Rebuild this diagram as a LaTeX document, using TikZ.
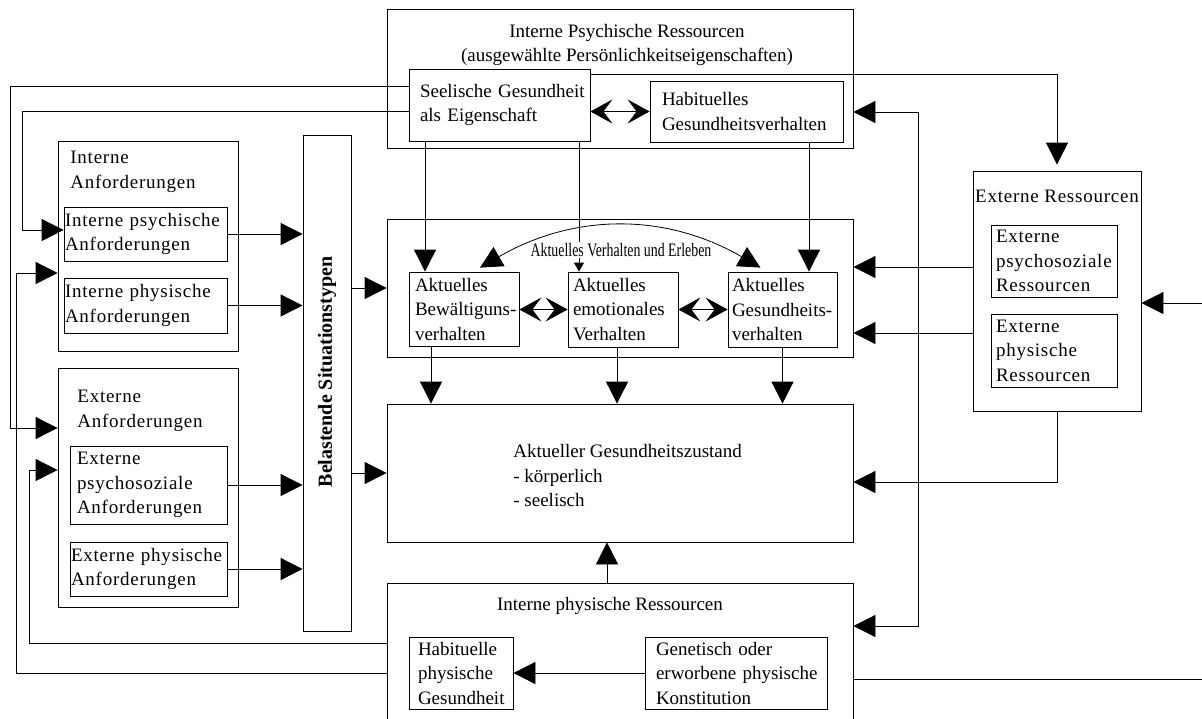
\documentclass[tikz,border=0pt]{standalone}
\usepackage{fontspec}
\setmainfont{Liberation Serif}
\newfontfamily\widefont{Liberation Serif}[LetterSpace=4]
\newfontfamily\narrowfont{Liberation Serif}[FakeStretch=0.73]
\usetikzlibrary{arrows.meta}

\tikzset{
  frame/.style={draw, inner sep=0pt},
  txt/.style={inner sep=0pt, align=left, font=\fontsize{19}{24.5}\selectfont,
    execute at begin node={\hyphenpenalty=10000\relax\exhyphenpenalty=10000\relax}},
  wtxt/.style={txt, font=\widefont\fontsize{19}{24.5}\selectfont},
  big/.style={-{Triangle[length=22pt,width=22pt]}},
  bigboth/.style={{Triangle[length=22pt,width=22pt]}-{Triangle[length=22pt,width=22pt]}},
  small/.style={-{Triangle[length=9pt,width=10pt]}},
  chev/.style={{Stealth[length=22pt,width=24pt,inset=9pt]}-{Stealth[length=22pt,width=24pt,inset=9pt]}}
}

\begin{document}
\begin{tikzpicture}[x=1pt, y=-1pt, line width=0.8pt]
  \useasboundingbox (0,0) rectangle (1202,718);

  % interne psychische Ressourcen
  \node [frame, minimum width=466pt, minimum height=139pt] (ipr) at (620,78.5) {};
  \node [txt, align=center] (iprlab) at (627,45) {Interne Psychische Ressourcen\\(ausgewählte Persönlichkeitseigenschaften)};
  \node [frame, txt, minimum width=181pt, minimum height=72pt, text width=159pt] (seel) at (499.5,105) {Seelische~Gesundheit\\als Eigenschaft};
  \node [frame, txt, minimum width=193pt, minimum height=61pt, text width=169pt] (habv) at (746.5,111.5) {Habituelles\\Gesundheitsverhalten};

  % aktuelles Verhalten und Erleben
  \node [frame, minimum width=466pt, minimum height=138pt] (akt) at (620,288) {};
  \node [frame, txt, minimum width=110pt, minimum height=74pt, text width=98pt] (bew) at (464,309) {Aktuelles\\Bewältiguns-\\verhalten};
  \node [frame, txt, minimum width=110pt, minimum height=75pt, text width=100pt] (emo) at (623,309.5) {Aktuelles\\emotionales\\Verhalten};
  \node [frame, txt, minimum width=109pt, minimum height=75pt, text width=101pt] (gesv) at (782.5,309.5) {Aktuelles\\Gesundheits-\\verhalten};

  % Gesundheitszustand
  \node [frame, minimum width=466pt, minimum height=138pt] (zust) at (620,473) {};
  \node [txt, anchor=north west] (zustlab) at (513,444) {Aktueller Gesundheitszustand\\- körperlich\\- seelisch};

  % interne physische Ressourcen
  \node [frame, minimum width=466pt, minimum height=147pt] (ipy) at (620,656.5) {};
  \node [txt] (ipylab) at (610,606) {Interne physische Ressourcen};
  \node [frame, txt, minimum width=104pt, minimum height=72pt, text width=86pt] (habg) at (461,673) {Habituelle\\physische\\Gesundheit};
  \node [frame, txt, minimum width=182pt, minimum height=72pt, text width=160pt] (gen) at (736,673) {Genetisch~oder\\erworbene~physische\\Konstitution};

  % Anforderungen
  \node [frame, minimum width=180pt, minimum height=210pt] (ianf) at (148,246) {};
  \node [wtxt, anchor=west] (ianflab) at (70,172) {Interne\\Anforderungen};
  \node [frame, wtxt, minimum width=163pt, minimum height=54pt, text width=161pt] (ipsy) at (145.5,234) {Interne~psychische\\Anforderungen};
  \node [frame, wtxt, minimum width=163pt, minimum height=55pt, text width=161pt] (iphy) at (145.5,305.5) {Interne~physische\\Anforderungen};
  \node [frame, minimum width=180pt, minimum height=239pt] (eanf) at (148,487.5) {};
  \node [wtxt, anchor=west] (eanflab) at (77,411) {Externe\\Anforderungen};
  \node [frame, wtxt, minimum width=157pt, minimum height=78pt, text width=143pt] (epsy) at (148.5,485) {Externe\\psychosoziale\\Anforderungen};
  \node [frame, wtxt, minimum width=157pt, minimum height=54pt, text width=155pt] (ephy) at (148.5,569) {Externe~physische\\Anforderungen};

  \node [frame, minimum width=48pt, minimum height=496pt] (sit) at (327,383) {};
  \node [rotate=90, inner sep=0pt, font=\bfseries\fontsize{20}{24}\selectfont] (sitlab) at (327,372) {Belastende Situationstypen};

  % externe Ressourcen
  \node [frame, minimum width=168pt, minimum height=240pt] (ext) at (1057,291) {};
  \node [wtxt] (extlab) at (1057,196) {Externe Ressourcen};
  \node [frame, wtxt, minimum width=126pt, minimum height=72pt, text width=116pt] (epr) at (1054,261) {Externe\\psychosoziale\\Ressourcen};
  \node [frame, wtxt, minimum width=126pt, minimum height=73pt, text width=116pt] (ephr) at (1054,350.5) {Externe\\physische\\Ressourcen};

  % helper points
  \coordinate (c1) at ([xshift=-39pt]bew.north);
  \coordinate (c2) at ([xshift=-44pt]emo.north);
  \coordinate (c3) at ([xshift=26.5pt]gesv.north);
  \coordinate (d1) at ([xshift=-33pt]bew.south);
  \coordinate (d2) at ([xshift=-6pt]emo.south);
  \coordinate (d3) at (gesv.south);
  \coordinate (d4) at ([xshift=-13pt]ipy.north);
  \coordinate (e1) at ([yshift=24pt]ext.west);
  \coordinate (e2) at ([yshift=-42pt]ext.west);
  \coordinate (edgeA) at (1202,303);
  \coordinate (edgeB) at (1202,679);

  % left loops
  \draw [big] ([yshift=-18pt]seel.north west) -| (10,428) -- (eanf.west |- 0,428);
  \draw [big] ([yshift=-43pt]seel.north west) -| (22,230) -- (ipsy.west |- 0,230);
  \draw [big] (ipy.west |- 0,673) -| (16,273) -- (ianf.west |- 0,273);
  \draw [big] (ipy.west |- 0,643) -| (29,470) -- (eanf.west |- 0,470);

  \draw [big] (ipsy.east) -- (sit.west |- ipsy.east);
  \draw [big] (iphy.east) -- (sit.west |- iphy.east);
  \draw [big] (epsy.east) -- (sit.west |- epsy.east);
  \draw [big] (ephy.east) -- (sit.west |- ephy.east);
  \draw [big] (sit.east |- akt.west) -- (akt.west);
  \draw [big] (sit.east |- zust.west) -- (zust.west);

  % top and middle
  \draw [chev] (seel.east |- habv.west) -- (habv.west);
  \draw [big, shorten >=6pt] ([yshift=-6pt]seel.north east) -| (ext.north);
  \draw [big] (c1 |- seel.south) -- (c1);
  \draw [small] (c2 |- seel.south) -- (c2);
  \draw [big] (c3 |- habv.south) -- (c3);
  \draw [chev] (bew.east |- emo.west) -- (emo.west);
  \draw [chev] (emo.east) -- (gesv.west);
  \draw [bigboth] ([xshift=16pt,yshift=4pt]bew.north) to [bend left=30] ([xshift=-22pt,yshift=4pt]gesv.north);
  \draw [big] (d1) -- (d1 |- zust.north);
  \draw [big] (d2) -- (d2 |- zust.north);
  \draw [big] (d3) -- (d3 |- zust.north);
  \draw [big] (d4) -- (d4 |- zust.south);
  \draw [big] (gen.west) -- (habg.east);

  % right side
  \draw [bigboth] ([yshift=-33.5pt]ipr.east) -| (918,400) |- ([yshift=30.5pt]ipy.east);
  \draw [big] (e1) -- (e1 -| akt.east);
  \draw [big] (e2) -- (e2 -| akt.east);
  \draw [big] (ext.south) |- ([yshift=-9pt]zust.east);
  \draw [big] (edgeA) -- (edgeA -| ext.east);
  \draw ([yshift=-22.5pt]ipy.east) -- (edgeB);

  \node [fill=white, inner sep=1pt, font=\narrowfont\fontsize{19}{22}\selectfont] (aktlab) at (621,250) {Aktuelles Verhalten und Erleben};
\end{tikzpicture}
\end{document}
